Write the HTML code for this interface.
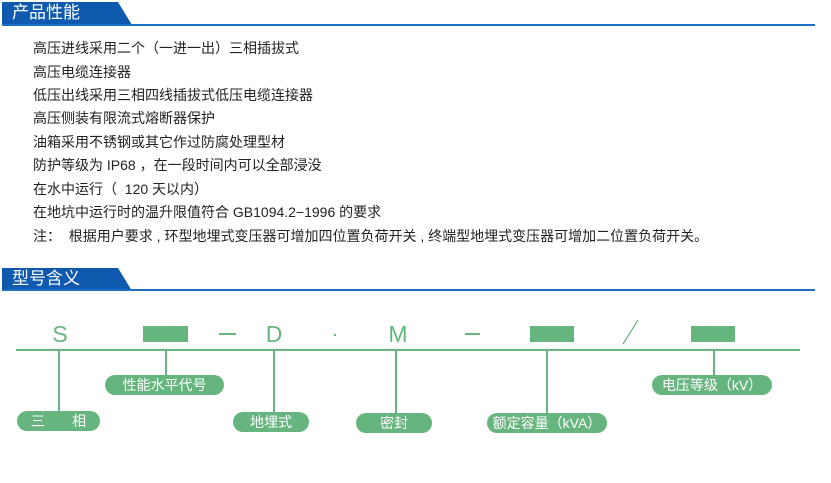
<!DOCTYPE html>
<html><head><meta charset="utf-8"><style>
body{margin:0;width:831px;height:483px;background:#fff;position:relative;overflow:hidden;font-family:"Liberation Sans","Noto Sans CJK SC",sans-serif}
.t{position:absolute;left:33px;font-size:14px;color:#222;white-space:pre;line-height:16px}
.h{position:absolute;left:12px;color:#fff;font-size:17px;line-height:22px}
.p{position:absolute;height:20px;border-radius:10px;background:#67b57e;color:#fff;font-size:14px;line-height:20px;text-align:center}
</style></head><body>
<svg width="831" height="483" style="position:absolute;left:0;top:0">
<polygon points="2,2 118,2 132,25 2,25" fill="#0f5aae"/>
<rect x="2" y="24" width="813" height="2" fill="#1d6fc6"/>
<polygon points="2,268 118,268 132,291 2,291" fill="#0f5aae"/>
<rect x="2" y="289" width="813" height="2" fill="#1d6fc6"/>
<g fill="#67b57e" stroke="none">
<rect x="16" y="349" width="784" height="2"/>
<rect x="143" y="326" width="45" height="16"/>
<rect x="530" y="326" width="44" height="16"/>
<rect x="691" y="326" width="44" height="16"/>
<rect x="219" y="333" width="17" height="2"/>
<rect x="465" y="333" width="15" height="2"/>
<rect x="58" y="350" width="2" height="62"/>
<rect x="165" y="350" width="2" height="26"/>
<rect x="273" y="350" width="2" height="63"/>
<rect x="395" y="350" width="2" height="63"/>
<rect x="546" y="350" width="2" height="64"/>
<rect x="713" y="350" width="2" height="26"/>
<circle cx="335" cy="335" r="1.2"/>
</g>
<line x1="623" y1="344" x2="638" y2="320" stroke="#67b57e" stroke-width="1.2"/>
<g fill="#67b57e" font-family="Liberation Sans, sans-serif" font-size="23" text-anchor="middle">
<text x="60" y="342">S</text><text x="274" y="342">D</text><text x="398" y="342">M</text>
</g>
</svg>
<div class="h" style="top:2px">产品性能</div>
<div class="h" style="top:268px">型号含义</div>
<div class="t" style="top:40px">高压进线采用二个（一进一出）三相插拔式</div>
<div class="t" style="top:64px">高压电缆连接器</div>
<div class="t" style="top:87px">低压出线采用三相四线插拔式低压电缆连接器</div>
<div class="t" style="top:110px">高压侧装有限流式熔断器保护</div>
<div class="t" style="top:134px">油箱采用不锈钢或其它作过防腐处理型材</div>
<div class="t" style="top:157px">防护等级为 IP68 ，在一段时间内可以全部浸没</div>
<div class="t" style="top:181px">在水中运行（  120 天以内）</div>
<div class="t" style="top:204px">在地坑中运行时的温升限值符合 GB1094.2−1996 的要求</div>
<div class="t" style="top:228px">注：  根据用户要求 , 环型地埋式变压器可增加四位置负荷开关 , 终端型地埋式变压器可增加二位置负荷开关。</div>
<div class="p" style="left:17px;top:411px;width:83px">三&nbsp;&nbsp;&nbsp;&nbsp;&nbsp;&nbsp;&nbsp;相</div>
<div class="p" style="left:105px;top:375px;width:119px">性能水平代号</div>
<div class="p" style="left:233px;top:412px;width:76px">地埋式</div>
<div class="p" style="left:356px;top:413px;width:76px">密封</div>
<div class="p" style="left:487px;top:413px;width:120px">额定容量（kVA）</div>
<div class="p" style="left:652px;top:375px;width:120px">电压等级（kV）</div>
</body></html>
